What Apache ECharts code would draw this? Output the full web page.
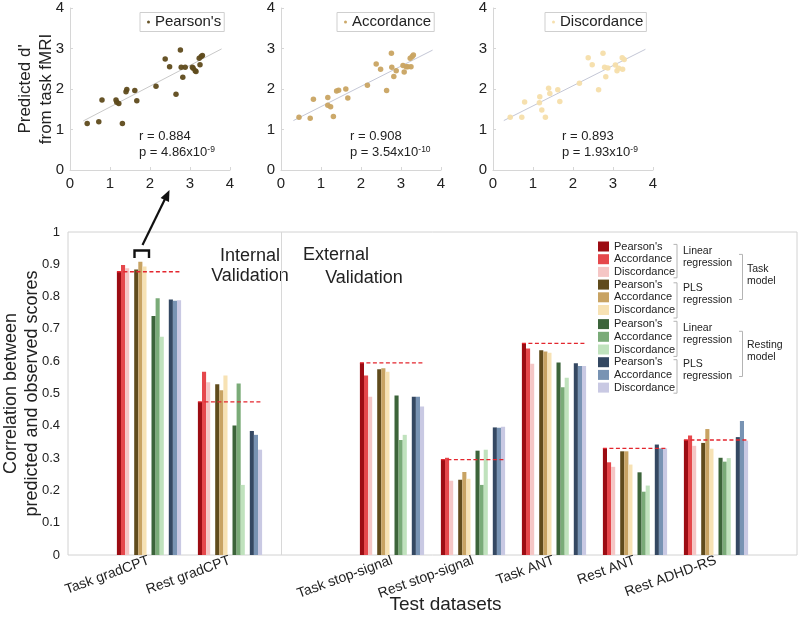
<!DOCTYPE html>
<html>
<head>
<meta charset="UTF-8">
<title>Prediction of sustained attention</title>
<script src="https://cdn.jsdelivr.net/npm/echarts@6/dist/echarts.min.js"></script>
</head>
<body style="margin: 0">
<div id="container" style="width: 800px; height: 636px;"></div>
<script type="text/javascript">
var dom = document.getElementById('container');
var myChart = echarts.init(dom);

// ---- bar chart data ----
// blank slots keep the empty space at both ends and between internal / external validation
var categories = ['', 'Task gradCPT', 'Rest gradCPT', ' ', 'Task stop-signal', 'Rest stop-signal', 'Task ANT', 'Rest ANT', 'Rest ADHD-RS', '  '];
var datasets = ['Task gradCPT', 'Rest gradCPT', 'Task stop-signal', 'Rest stop-signal', 'Task ANT', 'Rest ANT', 'Rest ADHD-RS'];

// task model, linear regression
var taskLinPearson = [0.877, 0.474, 0.595, 0.295, 0.655, 0.330, 0.356];
var taskLinAcc     = [0.898, 0.567, 0.556, 0.301, 0.639, 0.287, 0.370];
var taskLinDis     = [0.888, 0.535, 0.490, 0.230, 0.592, 0.273, 0.338];
// task model, PLS regression
var taskPlsPearson = [0.884, 0.529, 0.575, 0.233, 0.634, 0.321, 0.347];
var taskPlsAcc     = [0.908, 0.510, 0.578, 0.257, 0.630, 0.321, 0.390];
var taskPlsDis     = [0.893, 0.556, 0.567, 0.236, 0.626, 0.280, 0.329];
// resting model, linear regression
var restLinPearson = [0.740, 0.401, 0.494, 0.323, 0.596, 0.256, 0.301];
var restLinAcc     = [0.795, 0.531, 0.356, 0.217, 0.519, 0.196, 0.289];
var restLinDis     = [0.676, 0.217, 0.372, 0.326, 0.549, 0.215, 0.300];
// resting model, PLS regression
var restPlsPearson = [0.791, 0.384, 0.490, 0.395, 0.594, 0.342, 0.365];
var restPlsAcc     = [0.787, 0.372, 0.490, 0.394, 0.585, 0.330, 0.415];
var restPlsDis     = [0.789, 0.326, 0.460, 0.397, 0.585, 0.330, 0.354];

// ---- scatter data (observed d' vs predicted d') ----
var pearsonObs  = [0.43, 0.72, 0.80, 1.31, 1.15, 1.17, 1.22, 1.42, 1.40, 1.62, 1.67, 2.15, 2.38, 2.49, 2.65, 2.76, 2.78, 2.82, 2.88, 3.06, 3.08, 3.13, 3.15, 3.25, 3.23, 3.28, 3.31];
var pearsonPred = [1.15, 1.19, 1.73, 1.15, 1.73, 1.67, 1.64, 1.99, 1.93, 1.96, 1.71, 2.07, 2.74, 2.55, 1.87, 2.96, 2.54, 2.29, 2.54, 2.54, 2.51, 2.45, 2.43, 2.60, 2.76, 2.80, 2.83];
var accObs  = [0.45, 0.73, 0.81, 1.31, 1.17, 1.17, 1.24, 1.39, 1.44, 1.62, 1.67, 2.16, 2.38, 2.49, 2.64, 2.76, 2.77, 2.82, 2.88, 3.05, 3.08, 3.13, 3.17, 3.25, 3.23, 3.28, 3.31];
var accPred = [1.30, 1.28, 1.75, 1.32, 1.79, 1.60, 1.56, 1.95, 1.97, 2.00, 1.78, 2.09, 2.62, 2.49, 1.96, 2.88, 2.54, 2.31, 2.45, 2.58, 2.42, 2.55, 2.55, 2.55, 2.76, 2.80, 2.84];
var disObs  = [0.43, 0.72, 0.79, 1.31, 1.17, 1.16, 1.22, 1.39, 1.42, 1.62, 1.67, 2.16, 2.38, 2.48, 2.64, 2.75, 2.79, 2.82, 2.87, 3.06, 3.10, 3.14, 3.24, 3.23, 3.28];
var disPred = [1.30, 1.30, 1.68, 1.30, 1.81, 1.66, 1.48, 2.02, 1.89, 1.98, 1.69, 2.14, 2.77, 2.60, 1.98, 2.88, 2.54, 2.30, 2.52, 2.59, 2.45, 2.51, 2.49, 2.77, 2.73];
// fitted lines, end points
var pearsonFit = [[0.33, 1.21], [3.79, 2.99]];
var accFit     = [[0.31, 1.22], [3.79, 2.96]];
var disFit     = [[0.27, 1.22], [3.81, 2.98]];
var statR = ['r = 0.884', 'r = 0.908', 'r = 0.893'];
var statP = ['4.86x10', '3.54x10', '1.93x10'];
var statExp = ['-9', '-10', '-9'];

var FONT = '"Liberation Sans", Arial, Helvetica, sans-serif';
var BAR_W = 4.1, GAP_W = 5;
var groupHalf = (12 * BAR_W + 3 * GAP_W) / 2;

function toSlots(values) {
	return categories.map(function (c) {
		var i = datasets.indexOf(c);
		return i < 0 ? '-' : values[i];
	});
}
function zip(xs, ys) {
	return xs.map(function (x, i) { return [x, ys[i]]; });
}

// null entries are empty columns that separate the four sub-groups
var barDefs = [
	["Pearson's (task, linear)", taskLinPearson, '#9c0c13'],
	["Accordance (task, linear)", taskLinAcc, '#e5484c'],
	["Discordance (task, linear)", taskLinDis, '#f5c6c5'],
	null,
	["Pearson's (task, PLS)", taskPlsPearson, '#604b1c'],
	["Accordance (task, PLS)", taskPlsAcc, '#c8a363'],
	["Discordance (task, PLS)", taskPlsDis, '#f7e2b4'],
	null,
	["Pearson's (rest, linear)", restLinPearson, '#3c643a'],
	["Accordance (rest, linear)", restLinAcc, '#7aab78'],
	["Discordance (rest, linear)", restLinDis, '#c0e2bd'],
	null,
	["Pearson's (rest, PLS)", restPlsPearson, '#344862'],
	["Accordance (rest, PLS)", restPlsAcc, '#7893b3'],
	["Discordance (rest, PLS)", restPlsDis, '#c9c9e3']
];

var series = [];
barDefs.forEach(function (d, k) {
	if (d) {
		series.push({
			name: d[0], type: 'bar', xAxisIndex: 0, yAxisIndex: 0,
			barWidth: BAR_W, barGap: '0%', data: toSlots(d[1]),
			itemStyle: { color: d[2] }, silent: true
		});
	} else {
		series.push({
			name: 'gap' + k, type: 'bar', xAxisIndex: 0, yAxisIndex: 0,
			barWidth: GAP_W, barGap: '0%', data: toSlots([]), silent: true
		});
	}
});
// divider between internal and external validation
series[0].markLine = {
	silent: true, symbol: ['none', 'none'], label: { show: false },
	lineStyle: { color: '#d8d8d8', type: 'solid', width: 1 },
	data: [{ xAxis: 3 }]
};
// red dashed reference at the task linear Pearson's value
series.push({
	type: 'custom', name: 'reference', xAxisIndex: 0, yAxisIndex: 0, z: 5, silent: true,
	data: datasets.map(function (d, i) { return [categories.indexOf(d), taskLinPearson[i]]; }),
	encode: { x: 0, y: 1 },
	renderItem: function (params, api) {
		var p = api.coord([api.value(0), api.value(1)]);
		return {
			type: 'line',
			shape: { x1: p[0] - groupHalf, y1: p[1], x2: p[0] + groupHalf, y2: p[1] },
			style: { stroke: '#e3262e', lineWidth: 1.3, lineDash: [4, 2.5] }
		};
	}
});

// scatter panels
var scatterDefs = [
	["Pearson's", pearsonObs, pearsonPred, pearsonFit, '#5f4b1c', '#c9c9c9'],
	['Accordance', accObs, accPred, accFit, '#c9a462', '#c4c7d6'],
	['Discordance', disObs, disPred, disFit, '#f6deaa', '#c4c7d6']
];
scatterDefs.forEach(function (d, i) {
	series.push({
		name: d[0], type: 'scatter', xAxisIndex: i + 1, yAxisIndex: i + 1,
		symbolSize: 5.5, data: zip(d[1], d[2]), itemStyle: { color: d[4], opacity: 0.95 }, z: 3
	});
	series.push({
		name: d[0] + ' fit', type: 'line', xAxisIndex: i + 1, yAxisIndex: i + 1,
		data: d[3], symbol: 'none', lineStyle: { color: d[5], width: 1 }, z: 2, silent: true
	});
});

var scatterLeft = [70, 281, 493];
var grids = [{
	left: 68, right: 3, top: 232, bottom: 81, show: true, borderColor: '#d2d2d2', borderWidth: 1,
	outerBoundsMode: 'none', containLabel: false
}];
scatterLeft.forEach(function (l) {
	grids.push({ left: l, top: 8, width: 160, height: 162, outerBoundsMode: 'none', containLabel: false });
});

var xAxes = [{
	gridIndex: 0, type: 'category', data: categories, boundaryGap: false,
	axisLine: { show: false }, axisTick: { show: false },
	axisLabel: { interval: 0, rotate: 20, fontSize: 14, color: '#222', margin: 5 },
	name: 'Test datasets', nameLocation: 'middle', nameGap: 40, nameMoveOverlap: false,
	nameTextStyle: { fontSize: 19, color: '#222', padding: [0, 0, 0, 26] }
}];
var yAxes = [{
	gridIndex: 0, type: 'value', min: 0, max: 1, interval: 0.1,
	splitLine: { show: false }, axisLine: { show: false }, axisTick: { show: false },
	axisLabel: { fontSize: 13, color: '#222', margin: 8 },
	name: 'Correlation between\npredicted and observed scores', nameLocation: 'middle',
	nameGap: 25, nameMoveOverlap: false,
	nameTextStyle: { fontSize: 18, lineHeight: 21, color: '#222' }
}];
for (var g = 1; g <= 3; g++) {
	var axisCommon = {
		gridIndex: g, type: 'value', min: 0, max: 4, interval: 1,
		splitLine: { show: false },
		axisLine: { lineStyle: { color: '#d6d6d6' } },
		axisTick: { inside: true, length: 3, lineStyle: { color: '#d6d6d6' } },
		axisLabel: { fontSize: 15, color: '#222', margin: 6 }
	};
	xAxes.push(Object.assign({}, axisCommon));
	var ya = Object.assign({}, axisCommon);
	if (g === 1) {
		ya.name = "Predicted d'\nfrom task fMRI";
		ya.nameLocation = 'middle';
		ya.nameGap = 13;
		ya.nameMoveOverlap = false;
		ya.nameTextStyle = { fontSize: 17, lineHeight: 21, color: '#222' };
	}
	yAxes.push(ya);
}

function legendName(name) {
	return name.replace(/ \(.*\)$/, '');
}
var barLegendCommon = {
	orient: 'vertical', left: 598, icon: 'rect', itemWidth: 11, itemHeight: 10, itemGap: 1.7,
	padding: 0, selectedMode: false, formatter: legendName,
	textStyle: { fontSize: 11, lineHeight: 10, color: '#222' }
};
var legends = [
	Object.assign({}, barLegendCommon, { top: 241, data: barDefs.slice(0, 7).filter(Boolean).map(function (d) { return d[0]; }) }),
	Object.assign({}, barLegendCommon, { top: 318.6, data: barDefs.slice(8).filter(Boolean).map(function (d) { return d[0]; }) })
];
var scatterLegendLeft = [140, 337, 545];
scatterDefs.forEach(function (d, i) {
	legends.push({
		data: [d[0]], left: scatterLegendLeft[i], top: 12.5, orient: 'horizontal',
		icon: 'circle', itemWidth: 3, itemHeight: 3, selectedMode: false,
		borderColor: '#cfcfcf', borderWidth: 1, padding: [2, 3, 2, 7],
		textStyle: { fontSize: 15, color: '#222' }
	});
});

// annotation graphics
var graphics = [];
function label(x, y, text, size, align) {
	graphics.push({
		type: 'text', x: x, y: y, silent: true,
		style: { text: text, fontSize: size, lineHeight: size + 1.5, fill: '#222', font: size + 'px ' + FONT,
			align: align || 'left', verticalAlign: 'middle' }
	});
}
function bracket(x, y0, y1) {
	graphics.push({
		type: 'polyline', silent: true,
		shape: { points: [[x - 3.5, y0], [x, y0], [x, y1], [x - 3.5, y1]] },
		style: { stroke: '#b4b4b4', lineWidth: 1, fill: null }
	});
}
label(250, 266, 'Internal\nValidation', 18, 'center');
label(336, 255, 'External', 18, 'center');
label(364, 278, 'Validation', 18, 'center');

bracket(677, 244.4, 277.8);
bracket(677, 282.8, 318);
bracket(742.5, 254.4, 299.5);
bracket(677, 321.3, 356.4);
bracket(677, 359.7, 393.2);
bracket(742.5, 331.3, 376.5);
label(683, 256.8, 'Linear\nregression', 10.5);
label(683, 293.7, 'PLS\nregression', 10.5);
label(747, 274.7, 'Task\nmodel', 10.5);
label(683, 333.8, 'Linear\nregression', 10.5);
label(683, 370.6, 'PLS\nregression', 10.5);
label(747, 351.3, 'Resting\nmodel', 10.5);

// r and p values of each scatter panel
scatterLeft.forEach(function (l, i) {
	graphics.push({
		type: 'text', x: l + 69, y: 136, silent: true,
		style: { text: statR[i], font: '13px ' + FONT, fill: '#222', verticalAlign: 'middle' }
	});
	graphics.push({
		type: 'text', x: l + 69, y: 152, silent: true,
		style: {
			text: 'p = ' + statP[i] + '{sup|' + statExp[i] + '}', font: '13px ' + FONT, fill: '#222', verticalAlign: 'middle',
			rich: { sup: { fontSize: 8.5, fontFamily: FONT, verticalAlign: 'top', padding: [0, 0, 5, 0], fill: '#222' } }
		}
	});
});

// arrow from the highlighted PLS bars to the scatter panels
graphics.push({
	type: 'polyline', silent: true,
	shape: { points: [[134.5, 258], [134.5, 250.5], [149, 250.5], [149, 258]] },
	style: { stroke: '#111', lineWidth: 2.4, fill: null }
});
graphics.push({
	type: 'line', silent: true,
	shape: { x1: 142.5, y1: 245, x2: 165, y2: 199 },
	style: { stroke: '#111', lineWidth: 2.2 }
});
graphics.push({
	type: 'polygon', silent: true,
	shape: { points: [[169.5, 190], [169, 202], [160.6, 198]] },
	style: { fill: '#111' }
});

var option = {
	animation: false,
	backgroundColor: '#fff',
	textStyle: { fontFamily: FONT },
	grid: grids,
	xAxis: xAxes,
	yAxis: yAxes,
	legend: legends,
	graphic: graphics,
	series: series
};

if (option && typeof option === 'object') {
	myChart.setOption(option, true);
}
</script>
</body>
</html>
